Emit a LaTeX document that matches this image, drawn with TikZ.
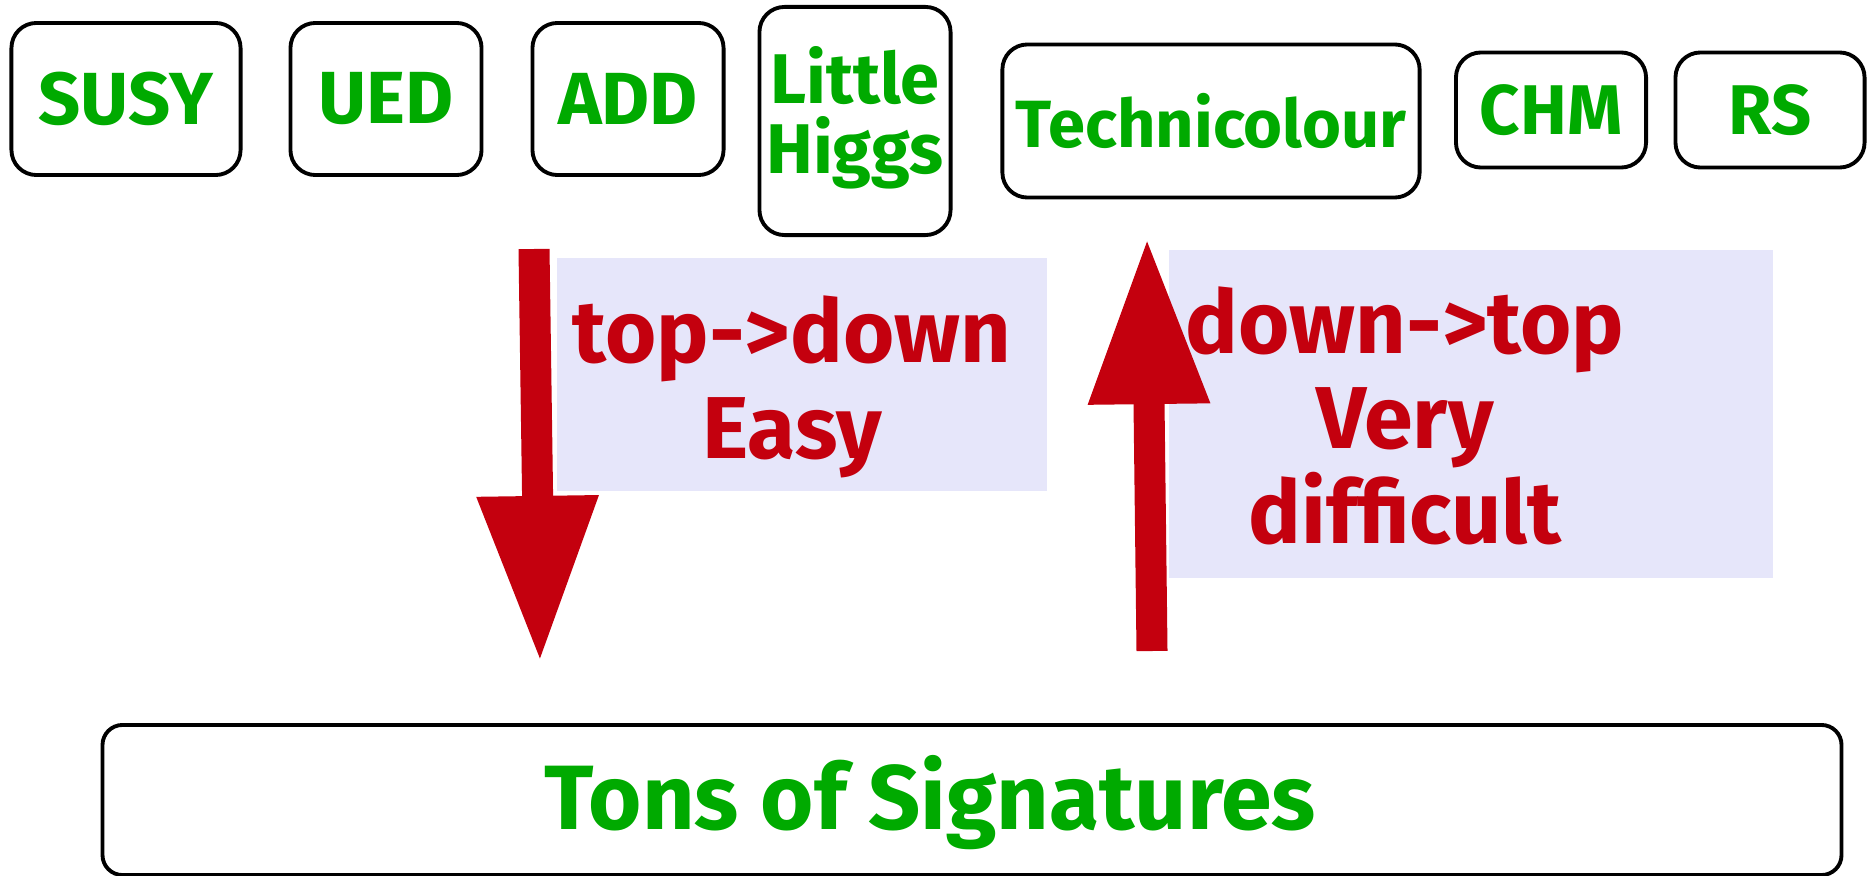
\documentclass[tikz,border=0pt]{standalone}
\usepackage{fontspec}
\setmainfont{Fira Sans}
\usetikzlibrary{arrows.meta, positioning}
\definecolor{modelgreen}{RGB}{0,170,0}
\definecolor{arrowred}{RGB}{196,0,14}
\definecolor{panelblue}{RGB}{230,230,250}

\begin{document}
\begin{tikzpicture}[
        x=0.01cm, y=-0.01cm,
        model/.style={rectangle, rounded corners=0.25cm, draw, line width=1.1pt, align=center, text=modelgreen, font=\fontsize{21}{24}\selectfont\bfseries, inner sep=0pt},
        modeltext/.style={align=center, text=modelgreen, font=\fontsize{20}{20}\selectfont\bfseries, inner sep=0pt},
        panel/.style={rectangle, fill=panelblue, inner sep=0pt},
        remark/.style={align=center, text=arrowred, font=\fontsize{25}{27.5}\selectfont\bfseries, inner sep=0pt},
        bigarrow/.style={arrowred, line width=3.1mm, -{Triangle[width=11.3mm, length=16.7mm]}}
    ]
    \useasboundingbox (0,0) rectangle (1870,876);

    % Models (top row)
    \node[model, minimum width=2.29cm, minimum height=1.52cm] (susy) at (126,99) {SUSY};
    \node[model, minimum width=1.91cm, minimum height=1.52cm] (ued) at (386,99) {UED};
    \node[model, minimum width=1.91cm, minimum height=1.52cm] (add) at (628,99) {ADD};
    \node[model, minimum width=1.91cm, minimum height=2.28cm] (lh) at (855,121) {};
    \node[modeltext] (lhtext) at (855,118) {Little\\Higgs};
    \node[model, minimum width=4.17cm, minimum height=1.53cm, font=\fontsize{19}{22}\selectfont\bfseries] (tc) at (1211,121) {Technicolour};
    \node[model, minimum width=1.90cm, minimum height=1.15cm, font=\fontsize{20}{24}\selectfont\bfseries] (chm) at (1551,110) {CHM};
    \node[model, minimum width=1.89cm, minimum height=1.15cm, font=\fontsize{20}{24}\selectfont\bfseries] (rs) at (1770,110) {RS};

    % Signatures (bottom)
    \node[model, rounded corners=0.2cm, minimum width=17.38cm, minimum height=1.5cm] (sig) at (972,800) {};
    \node[modeltext, font=\fontsize{26}{30}\selectfont\bfseries] (sigtext) at (930,803) {Tons of Signatures};

    % Approaches
    \node[panel, minimum width=4.9cm, minimum height=2.33cm] (easybox) at (802,374.5) {};
    \node[remark] (easy) at (792,387) {top->down\\Easy};
    \node[panel, minimum width=6.04cm, minimum height=3.28cm] (hardbox) at (1471,414) {};
    \node[remark, font=\fontsize{25}{27}\selectfont\bfseries] (hard) at (1405,416) {down->top\\Very\\difficult};

    % Arrows
    \coordinate (downstart) at (534,249);
    \coordinate (downtip) at (540,663);
    \coordinate (upstart) at (1152,651);
    \coordinate (uptip) at (1147,237);
    \draw[bigarrow] (downstart) -- (downtip);
    \draw[bigarrow] (upstart) -- (uptip);

\end{tikzpicture}
\end{document}
